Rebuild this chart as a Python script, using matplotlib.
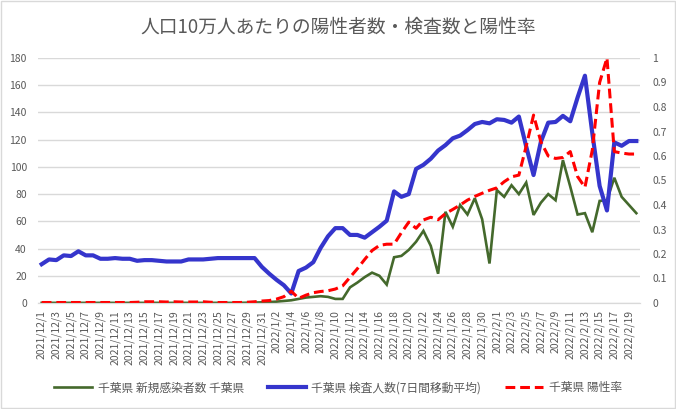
import numpy as np
import pandas as pd
from matplotlib import pyplot as plt
from matplotlib.patches import Rectangle

plt.rcParams['font.family'] = ['Noto Sans CJK JP', 'DejaVu Sans']

dates = pd.date_range('2021-12-01', periods=82)
labels = [f'{d.year}/{d.month}/{d.day}' for d in dates]

# 千葉県 新規感染者数 (人口10万人あたり)
cases = [0.1, 0.1, 0.1, 0.1, 0.1, 0.1, 0.1, 0.1, 0.1, 0.1,
         0.1, 0.1, 0.1, 0.1, 0.1, 0.1, 0.1, 0.1, 0.1, 0.1,
         0.1, 0.1, 0.1, 0.1, 0.1, 0.1, 0.1, 0.1, 0.2, 0.3,
         0.5, 0.7, 1, 1.5, 2, 3, 4, 4.5, 5, 4.5,
         3, 3, 11.5, 15, 19, 22.3, 20, 13.5, 33.6, 34.6,
         39, 45, 53, 42, 21.5, 67, 56, 72, 65, 77,
         61.5, 29, 83, 78, 86.5, 80, 88.5, 64.7, 73.7, 80,
         75.5, 105, 85.5, 65, 66, 52, 75, 75.5, 92, 78,
         72, 66]

# 千葉県 検査人数(7日間移動平均)
tests = [28.5, 32, 31.5, 35, 34.5, 38, 35, 35, 32.5, 32.5,
         33, 32.5, 32.5, 31, 31.5, 31.5, 31, 30.5, 30.5, 30.5,
         32, 32, 32, 32.5, 33, 33, 33, 33, 33, 33,
         26.5, 21.5, 17, 13, 7, 23.5, 26, 30, 40.5, 49,
         55, 55, 50, 50, 48, 52, 56, 60.5, 82, 78,
         80, 98.5, 101.5, 106, 112, 116, 121, 123, 127, 131.5,
         133, 132, 135, 134.5, 132.5, 137, 115, 94, 118.5, 132.5,
         133, 137.5, 133.5, 151, 167, 125, 86, 68, 118, 115.5,
         119, 119]

# 千葉県 陽性率
rate = [0.002, 0.002, 0.002, 0.002, 0.002, 0.002, 0.002, 0.002, 0.002, 0.002,
        0.002, 0.002, 0.002, 0.003, 0.005, 0.005, 0.005, 0.004, 0.005, 0.004,
        0.004, 0.004, 0.005, 0.003, 0.002, 0.002, 0.002, 0.002, 0.003, 0.005,
        0.008, 0.01, 0.016, 0.026, 0.048, 0.019, 0.032, 0.042, 0.047, 0.05,
        0.057, 0.07, 0.105, 0.14, 0.178, 0.214, 0.235, 0.24, 0.24, 0.287,
        0.33, 0.305, 0.339, 0.35, 0.34, 0.365, 0.382, 0.4, 0.42, 0.435,
        0.448, 0.46, 0.47, 0.495, 0.515, 0.522, 0.64, 0.767, 0.658, 0.6,
        0.59, 0.594, 0.618, 0.516, 0.472, 0.624, 0.9, 1.0, 0.618, 0.612,
        0.608, 0.608]

title = '人口10万人あたりの陽性者数・検査数と陽性率'
names = ['千葉県 新規感染者数 千葉県', '千葉県 検査人数(7日間移動平均)', '千葉県 陽性率']

gray = '#595959'
grid = '#d9d9d9'

fig = plt.figure(figsize=(6.76, 4.09), dpi=100)
ax = fig.add_axes([38/676, 1-303/409, 602/676, 245/409])
ax2 = ax.twinx()

x = np.arange(len(dates))
l1, = ax.plot(x, cases, color='#44692c', lw=1.9, solid_joinstyle='miter')
l2, = ax.plot(x, tests, color='#3535cc', lw=3.0, solid_joinstyle='round')
l3, = ax2.plot(x, rate, color='#ff0000', lw=2.2, linestyle=(0, (3.2, 1.6)))

ax.set_xlim(-0.5, len(dates) - 0.5)
ax.set_ylim(0, 180)
ax.set_yticks(range(0, 181, 20))
ax2.set_ylim(0, 1)
ax2.set_yticks(np.arange(0, 1.01, 0.1))
ax2.set_yticklabels(['0', '0.1', '0.2', '0.3', '0.4', '0.5', '0.6', '0.7', '0.8', '0.9', '1'])

ax.set_xticks(x[::2])
ax.set_xticklabels(labels[::2], rotation=90)

ax.grid(axis='y', color=grid, lw=1)
ax.set_axisbelow(True)
for a in (ax, ax2):
    for s in ('top', 'left', 'right'):
        a.spines[s].set_visible(False)
    a.spines['bottom'].set_color(grid)
    a.tick_params(length=0, labelsize=7.5, labelcolor=gray)
ax.tick_params(axis='y', pad=8)
ax2.tick_params(axis='y', pad=9)
ax.tick_params(axis='x', pad=5)

fig.text(0.5, 1-27/409, title, ha='center', va='center', fontsize=13.5, color=gray)

fig.legend([l1, l2, l3], names, loc='center', bbox_to_anchor=(0.5, 1-388/409), ncol=3,
           frameon=False, fontsize=8.5, handlelength=3.2, columnspacing=2.0,
           handletextpad=0.5, labelcolor=gray)

fig.patches.append(Rectangle((0.001, 0.002), 0.997, 0.996, transform=fig.transFigure,
                             fill=False, edgecolor=grid, lw=1))

fig.savefig('out.png', dpi=100)
